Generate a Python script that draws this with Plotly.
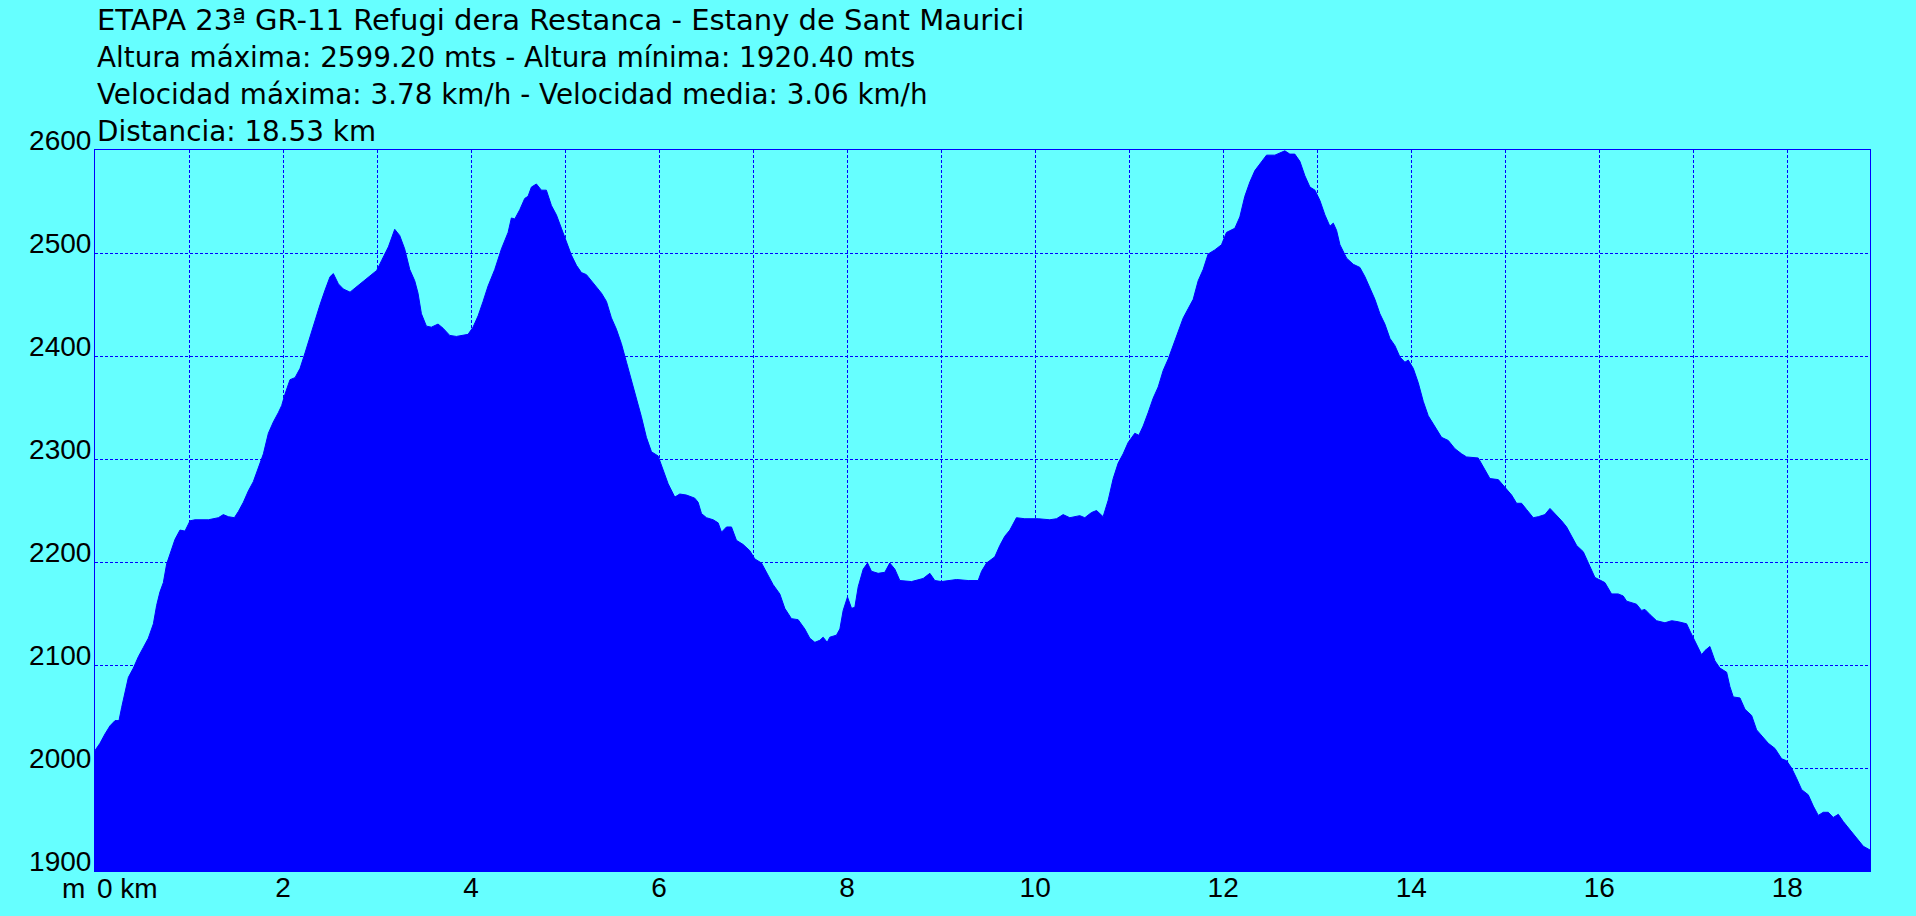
import plotly.graph_objects as go

title_lines = [
    "ETAPA 23ª GR-11 Refugi dera Restanca - Estany de Sant Maurici",
    "Altura máxima: 2599.20 mts - Altura mínima: 1920.40 mts",
    "Velocidad máxima: 3.78 km/h - Velocidad media: 3.06 km/h",
    "Distancia: 18.53 km",
]

distance_km = [
    0.000, 0.053, 0.106, 0.160, 0.213, 0.255, 0.284, 0.319, 0.355, 0.408, 0.461, 0.514, 0.567,
    0.621, 0.656, 0.691, 0.727, 0.762, 0.798, 0.851, 0.904, 0.957, 1.011, 1.064, 1.206, 1.312,
    1.365, 1.418, 1.482, 1.525, 1.578, 1.631, 1.684, 1.738, 1.791, 1.844, 1.897, 1.950, 1.986,
    2.021, 2.074, 2.128, 2.181, 2.234, 2.287, 2.340, 2.394, 2.447, 2.500, 2.535, 2.589, 2.642,
    2.713, 2.766, 2.837, 2.890, 2.943, 2.996, 3.050, 3.121,
    3.188, 3.241, 3.294, 3.348, 3.401, 3.436, 3.472, 3.525, 3.578, 3.649, 3.702, 3.773, 3.844,
    3.897, 3.968, 4.021, 4.075, 4.128, 4.181, 4.252, 4.323, 4.394, 4.429, 4.465, 4.518, 4.571,
    4.606, 4.642, 4.695, 4.748, 4.801, 4.855, 4.908, 4.961, 5.014, 5.067, 5.121, 5.174, 5.227,
    5.280, 5.333, 5.387, 5.440, 5.493, 5.546, 5.599, 5.653, 5.706, 5.759, 5.812, 5.865, 5.919,
    5.989, 6.043, 6.096, 6.167, 6.220, 6.291, 6.379,
    6.415, 6.451, 6.504, 6.575, 6.628, 6.664, 6.717, 6.770, 6.823, 6.894, 6.965, 7.018, 7.089,
    7.142, 7.213, 7.284, 7.337, 7.408, 7.479, 7.550, 7.603, 7.657, 7.710, 7.745, 7.788, 7.816,
    7.887, 7.923, 7.958, 8.004, 8.047, 8.082, 8.118, 8.171, 8.217, 8.259, 8.330, 8.401, 8.454,
    8.508, 8.561, 8.685, 8.809, 8.880, 8.933, 9.004, 9.164, 9.288, 9.394, 9.430, 9.483, 9.571,
    9.624, 9.677, 9.731, 9.801, 9.890, 10.032, 10.156, 10.227, 10.298, 10.369, 10.475, 10.528,
    10.599, 10.653, 10.723, 10.777, 10.830, 10.883, 10.936, 10.989, 11.060, 11.103, 11.149,
    11.202, 11.255, 11.309, 11.362, 11.415, 11.468, 11.521, 11.575, 11.628, 11.681, 11.734,
    11.787, 11.840, 11.911, 11.982, 12.035, 12.124, 12.177, 12.230, 12.284, 12.337, 12.408,
    12.461, 12.550, 12.621, 12.656, 12.709, 12.762,
    12.816, 12.869, 12.923, 12.976, 13.029, 13.082, 13.135, 13.171, 13.206, 13.242, 13.313,
    13.384, 13.454, 13.508, 13.561, 13.614, 13.667, 13.720, 13.774, 13.827, 13.880, 13.933,
    13.969, 14.022, 14.075, 14.128, 14.181, 14.252, 14.323, 14.394, 14.465, 14.536, 14.589,
    14.713, 14.766, 14.837, 14.926, 14.997, 15.068, 15.121, 15.174, 15.227, 15.298, 15.352,
    15.422, 15.476, 15.529, 15.600, 15.653, 15.706, 15.760, 15.830, 15.884, 15.954,
    16.060, 16.131, 16.202, 16.255, 16.291, 16.397, 16.450, 16.486, 16.539, 16.610, 16.699,
    16.770, 16.840, 16.929, 16.965, 17.036, 17.089, 17.124, 17.177, 17.231, 17.284, 17.355,
    17.390, 17.426, 17.497, 17.550, 17.621, 17.674, 17.745, 17.798, 17.869, 17.940, 17.993,
    18.046, 18.099, 18.153, 18.223, 18.277, 18.330, 18.383, 18.436, 18.489, 18.543, 18.596,
    18.667, 18.738, 18.809, 18.880,
]

altitude_m = [
    2017, 2024, 2033, 2041, 2046, 2046, 2059, 2073, 2088, 2097, 2108, 2117, 2126,
    2140, 2158, 2171, 2180, 2198, 2207, 2222, 2231, 2230, 2240, 2241, 2241, 2243,
    2246, 2244, 2243, 2249, 2258, 2269, 2278, 2292, 2305, 2325, 2336, 2345, 2352,
    2363, 2377, 2379, 2388, 2403, 2419, 2435, 2450, 2464, 2477, 2480, 2470, 2465,
    2462, 2466, 2471, 2475, 2479, 2483, 2493, 2506,
    2523, 2517, 2504, 2484, 2473, 2461, 2441, 2429, 2428, 2431, 2427, 2420, 2419,
    2420, 2421, 2428, 2439, 2453, 2468, 2484, 2504, 2520, 2534, 2533, 2542, 2553,
    2555, 2564, 2567, 2561, 2561, 2546, 2537, 2524, 2511, 2498, 2488, 2481, 2479,
    2473, 2467, 2461, 2453, 2437, 2426, 2412, 2394, 2377, 2359, 2341, 2321, 2307,
    2303, 2289, 2276, 2263, 2266, 2265, 2262,
    2258, 2247, 2243, 2241, 2238, 2229, 2234, 2234, 2221, 2217, 2211, 2203, 2199,
    2190, 2178, 2169, 2155, 2145, 2144, 2135, 2126, 2122, 2124, 2127, 2122, 2127,
    2129, 2135, 2153, 2166, 2155, 2156, 2176, 2193, 2199, 2191, 2189, 2190, 2199,
    2193, 2182, 2181, 2184, 2189, 2182, 2181, 2183, 2182, 2182, 2191, 2199, 2205,
    2216, 2225, 2231, 2243, 2242, 2242, 2241, 2242, 2246, 2243, 2245, 2243,
    2248, 2250, 2244, 2260, 2281, 2296, 2305, 2316, 2325, 2323, 2332,
    2345, 2359, 2370, 2386, 2397, 2410, 2424, 2437, 2446, 2455,
    2473, 2484, 2499, 2503, 2508, 2520, 2524, 2535, 2555, 2569, 2580,
    2589, 2595, 2595, 2598, 2599.2, 2596, 2596,
    2589, 2575, 2564, 2561, 2551, 2537, 2526, 2529, 2522, 2508, 2495,
    2489, 2486, 2477, 2466, 2455, 2441, 2431, 2417, 2410, 2399, 2394,
    2396, 2388, 2374, 2356, 2342, 2332, 2321, 2318, 2310, 2305, 2302,
    2301, 2292, 2281, 2280, 2273, 2265, 2257, 2257, 2251, 2243, 2244,
    2246, 2252, 2247, 2240, 2234, 2225, 2216, 2210, 2199, 2185,
    2180, 2169, 2169, 2167, 2162, 2159, 2153, 2154, 2149, 2143, 2141,
    2143, 2142, 2140, 2133, 2120, 2110, 2114, 2118, 2104, 2097, 2093,
    2079, 2069, 2068, 2057, 2051, 2037, 2030, 2024, 2019, 2009, 2007,
    2000, 1990, 1979, 1974, 1963, 1954, 1957, 1957, 1952, 1955, 1948,
    1940, 1932, 1924, 1920.4,
]

x_tick_vals = [2, 4, 6, 8, 10, 12, 14, 16, 18]
x_tick_text = ["2", "4", "6", "8", "10", "12", "14", "16", "18"]
y_tick_vals = [1900, 2000, 2100, 2200, 2300, 2400, 2500, 2600]

BG = "#66FFFF"
BLUE = "#0000FF"
TITLE_FONT = "DejaVu Sans, Arial, sans-serif"
TICK_FONT = "Liberation Sans, Arial, sans-serif"
TITLE_SIZES = [29, 27.8, 27.8, 27.8]
TICK_FS = 28

# plot area in pixels: x 95..1870, y 150..871
PL, PR, PT, PB = 95, 1870, 150, 871
PH = PB - PT

fig = go.Figure()
fig.add_trace(go.Scatter(
    x=distance_km, y=altitude_m, mode="lines",
    line=dict(color=BLUE, width=1, shape="linear"),
    fill="tozeroy", fillcolor=BLUE, hoverinfo="x+y", showlegend=False,
))

fig.update_layout(
    width=1916, height=916,
    margin=dict(l=PL, r=1916 - PR, t=PT, b=916 - PB, pad=0, autoexpand=False),
    paper_bgcolor=BG, plot_bgcolor=BG,
    font=dict(family=TICK_FONT, size=TICK_FS, color="black"),
    showlegend=False,
)
fig.update_xaxes(
    range=[0, 18.88], tickvals=x_tick_vals, ticktext=x_tick_text,
    showgrid=True, gridcolor=BLUE, gridwidth=1, griddash="3px,2px",
    minor=dict(dtick=1, tick0=0, showgrid=True, gridcolor=BLUE, gridwidth=1, griddash="3px,2px"),
    showline=True, linecolor=BLUE, linewidth=1, mirror=True,
    ticks="", zeroline=False, tickfont=dict(family=TICK_FONT, size=TICK_FS, color="black"),
    ticklabelstandoff=-9, automargin=False,
)
fig.update_yaxes(
    range=[1900, 2600], tickvals=y_tick_vals,
    showgrid=True, gridcolor=BLUE, gridwidth=1, griddash="3px,2px",
    showline=True, linecolor=BLUE, linewidth=1, mirror=True,
    ticks="", zeroline=False, tickfont=dict(family=TICK_FONT, size=TICK_FS, color="black"),
    ticklabelposition="outside", ticklabelshift=-10, ticklabelstandoff=-3, automargin=False,
)

# title lines (cap-centre pixel rows in the reference)
line_centres_px = [20, 57, 94, 131]
for txt, yc, fs in zip(title_lines, line_centres_px, TITLE_SIZES):
    fig.add_annotation(
        text=txt, xref="paper", yref="paper", x=0, y=(PB - yc) / PH,
        xanchor="left", yanchor="middle", showarrow=False,
        font=dict(family=TITLE_FONT, size=fs, color="black"),
    )

# unit labels under the origin
fig.add_annotation(text="m", xref="paper", yref="paper", x=-8 / (PR - PL), y=(PB - 888) / PH,
                   xanchor="right", yanchor="middle", showarrow=False,
                   font=dict(family=TICK_FONT, size=TICK_FS, color="black"))
fig.add_annotation(text="0 km", xref="paper", yref="paper", x=0, y=(PB - 888) / PH,
                   xanchor="left", yanchor="middle", showarrow=False,
                   font=dict(family=TICK_FONT, size=TICK_FS, color="black"))

fig.write_html(
    "out.html",
    config={"displayModeBar": False},
    post_script="document.body.style.margin='0px';document.body.style.overflow='hidden';",
)
